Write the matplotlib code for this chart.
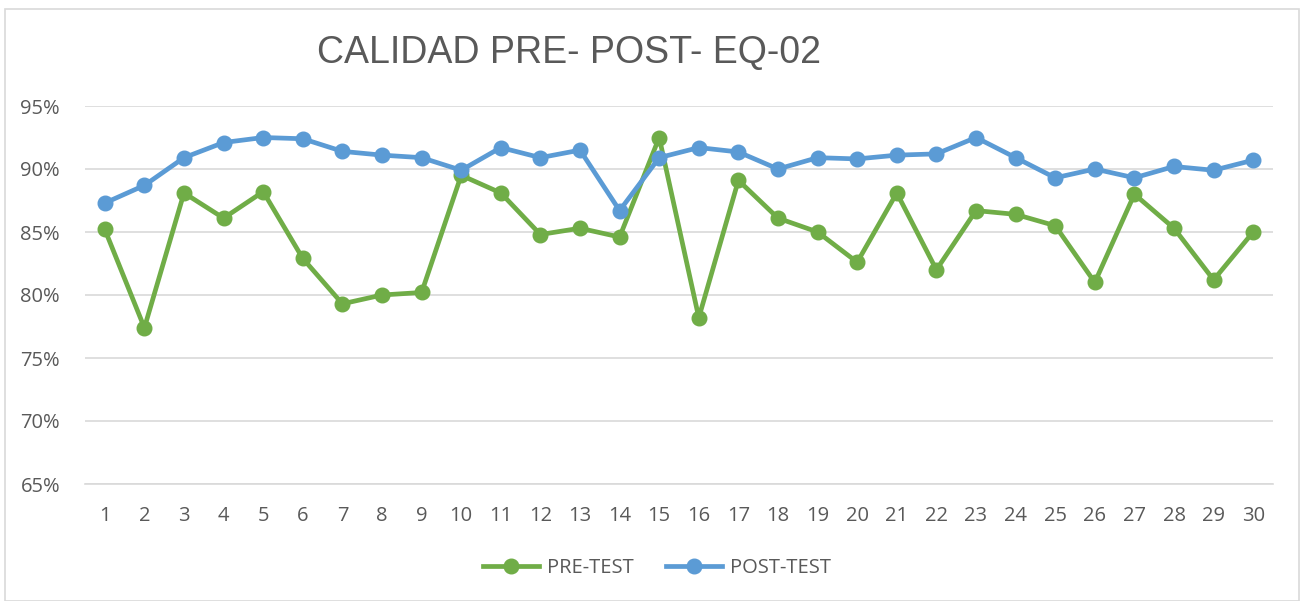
import matplotlib
matplotlib.use("Agg")
import matplotlib.pyplot as plt
from matplotlib.patches import Rectangle
from matplotlib.ticker import FuncFormatter, MultipleLocator

sessions = list(range(1, 31))
pre_test = [85.2, 77.4, 88.1, 86.1, 88.2, 82.9, 79.3, 80.0, 80.2, 89.5,
            88.1, 84.8, 85.3, 84.6, 92.5, 78.2, 89.1, 86.1, 85.0, 82.6,
            88.1, 82.0, 86.7, 86.4, 85.5, 81.0, 88.0, 85.3, 81.2, 85.0]
post_test = [87.3, 88.7, 90.9, 92.1, 92.5, 92.4, 91.4, 91.1, 90.9, 89.9,
             91.7, 90.9, 91.5, 86.7, 90.9, 91.7, 91.35, 90.0, 90.9, 90.8,
             91.1, 91.2, 92.5, 90.9, 89.3, 90.0, 89.3, 90.2, 89.9, 90.7]
series_names = ["PRE-TEST", "POST-TEST"]
title = "CALIDAD PRE- POST- EQ-02"

plt.rcParams["font.family"] = ["Open Sans", "DejaVu Sans"]

GREEN = "#70AD47"
BLUE = "#5B9BD5"
TEXT = "#595959"

fig = plt.figure(figsize=(13, 6.01), dpi=100)
fig.patches.append(Rectangle((5 / 1300, 0), 1 - 6 / 1300, 1 - 9 / 601,
                             transform=fig.transFigure, fill=False,
                             edgecolor="#D9D9D9", linewidth=1.2))

ax = fig.add_axes([85 / 1300, 1 - 484 / 601, (1273 - 85) / 1300, (484 - 106) / 601])
ax.plot(sessions, pre_test, color=GREEN, lw=3.4, marker="o", ms=10.5,
        label=series_names[0], solid_joinstyle="round")
ax.plot(sessions, post_test, color=BLUE, lw=3.4, marker="o", ms=10.5,
        label=series_names[1], solid_joinstyle="round")

ax.set_xlim(0.5, 30.5)
ax.set_ylim(65, 95)
ax.yaxis.set_major_locator(MultipleLocator(5))
ax.yaxis.set_major_formatter(FuncFormatter(lambda v, p: f"{v:.0f}%"))
ax.set_xticks(sessions)
ax.grid(axis="y", color="#D9D9D9", lw=1.2)
ax.set_axisbelow(True)
for s in ["top", "right", "left"]:
    ax.spines[s].set_visible(False)
ax.spines["bottom"].set_color("#D9D9D9")
ax.spines["bottom"].set_linewidth(1.2)
ax.tick_params(axis="both", length=0, labelsize=14.5, colors=TEXT)
ax.tick_params(axis="x", pad=16)
ax.tick_params(axis="y", pad=18)

fig.text(569 / 1300, 1 - 53 / 601, title, ha="center", va="center",
         fontsize=27, color=TEXT, family=["Liberation Sans", "DejaVu Sans"])

leg = fig.legend(loc="center", bbox_to_anchor=(657 / 1300, 1 - 568 / 601),
                 ncol=2, frameon=False, fontsize=14.5, handlelength=2.8,
                 columnspacing=1.6, handletextpad=0.4, labelcolor=TEXT)

fig.savefig("out.png", dpi=100)
